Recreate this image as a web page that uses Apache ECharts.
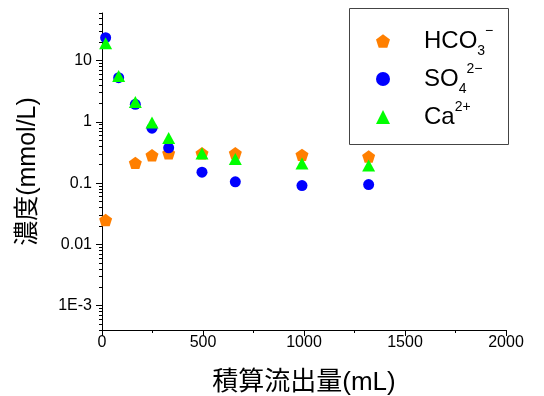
<!DOCTYPE html>
<html>
<head>
<meta charset="utf-8">
<script src="https://cdn.jsdelivr.net/npm/echarts@6/dist/echarts.min.js"></script>
<style>html,body{margin:0;padding:0;background:#fff}#c{width:544px;height:396px}</style>
</head>
<body>
<div id="c"></div>
<script>
// ---- data ----
const xValues = [18, 82.5, 165, 247.5, 330, 495, 660, 990, 1320];
const hco3 = [0.025, null, 0.214, 0.286, 0.308, 0.308, 0.308, 0.29, 0.272];
const so4 = [23.7, 5.28, 1.94, 0.79, 0.377, 0.151, 0.105, 0.0914, 0.0948];
const ca = [19.2, 5.6, 2.12, 0.975, 0.548, 0.304, 0.249, 0.209, 0.194];
const seriesNames = ['HCO3', 'SO4', 'Ca'];
const yMajorTicks = [0.001, 0.01, 0.1, 1, 10];
const yTickLabels = ['1E-3', '0.01', '0.1', '1', '10'];
const xTitle = '積算流出量(mL)';
const yTitle = '濃度(mmol/L)';

const yMin = 0.0004, yMax = 60;
const yMinorTicks = [];
for (let e = -4; e <= 1; e++) {
  for (let m = 2; m <= 9; m++) {
    const v = +(m * Math.pow(10, e)).toPrecision(3);
    if (v >= yMin && v <= yMax) yMinorTicks.push(v);
  }
}
function pairs(ys) {
  const out = [];
  ys.forEach((y, i) => { if (y != null) out.push([xValues[i], y]); });
  return out;
}
const latin = "'Liberation Sans', Arial, 'Noto Sans CJK JP', sans-serif";
const pentagon = 'path://M0,-1 L0.951,-0.309 L0.588,0.809 L-0.588,0.809 L-0.951,-0.309 Z';
const legendRich = {
  sp: { width: 29 },
  main: { fontSize: 24, lineHeight: 34, fontFamily: latin, color: '#000' },
  sub: { fontSize: 14, lineHeight: 14, verticalAlign: 'bottom', fontFamily: latin, color: '#000' },
  sup: { fontSize: 14, lineHeight: 14, verticalAlign: 'top', fontFamily: latin, color: '#000' }
};
const legendLabel = {
  'HCO3': '{sp|}{main|HCO}{sub|3}{sup|−}',
  'SO4': '{sp|}{main|SO}{sub|4}{sup|2−}',
  'Ca': '{sp|}{main|Ca}{sup|2+}'
};

const chart = echarts.init(document.getElementById('c'), null, { renderer: 'canvas' });
chart.setOption({
  animation: false,
  backgroundColor: '#fff',
  grid: { left: 102, right: 38, top: 13, bottom: 66, containLabel: false, outerBoundsMode: 'none' },
  graphic: [{
    type: 'rect', z: 10,
    shape: { x: 349.5, y: 8.5, width: 159, height: 136 },
    style: { fill: 'none', stroke: '#444', lineWidth: 1 }
  }],
  legend: {
    orient: 'vertical', left: 376, top: 24, padding: 0,
    itemWidth: 14, itemHeight: 14, itemGap: 4,
    data: seriesNames,
    formatter: n => legendLabel[n],
    textStyle: { rich: legendRich }
  },
  xAxis: {
    type: 'value', min: 0, max: 2000, interval: 500,
    name: xTitle, nameLocation: 'middle', nameGap: 40,
    nameTextStyle: { fontSize: 26, color: '#000', fontFamily: latin },
    axisLine: { show: true, onZero: false, lineStyle: { color: '#000', width: 1 } },
    axisTick: { show: true, length: 6, lineStyle: { color: '#000' } },
    minorTick: { show: true, splitNumber: 2, length: 3, lineStyle: { color: '#000' } },
    axisLabel: { fontSize: 16, color: '#000', margin: 5, fontFamily: latin, formatter: v => String(v) },
    splitLine: { show: false }
  },
  yAxis: [{
    type: 'log', logBase: 10, min: yMin, max: yMax,
    name: yTitle, nameLocation: 'middle', nameGap: 61, nameRotate: 90,
    nameTextStyle: { fontSize: 25, color: '#000', fontFamily: latin },
    axisLine: { show: true, onZero: false, lineStyle: { color: '#000', width: 1 } },
    axisTick: { show: true, length: 6, customValues: yMajorTicks, lineStyle: { color: '#000' } },
    axisLabel: {
      fontSize: 16, color: '#000', margin: 10, fontFamily: latin,
      customValues: yMajorTicks,
      formatter: v => {
        const i = yMajorTicks.findIndex(t => Math.abs(Math.log10(t) - Math.log10(v)) < 1e-6);
        return i >= 0 ? yTickLabels[i] : '';
      }
    },
    splitLine: { show: false }
  }, {
    type: 'log', logBase: 10, min: yMin, max: yMax, position: 'left',
    axisLine: { show: false },
    axisTick: { show: true, length: 3, customValues: yMinorTicks, lineStyle: { color: '#000' } },
    axisLabel: { show: false },
    splitLine: { show: false }
  }],
  series: [{
    name: 'HCO3', type: 'scatter', data: pairs(hco3),
    symbol: pentagon, symbolSize: 13, symbolKeepAspect: true,
    itemStyle: { color: '#FF7F00', opacity: 1 }, z: 2
  }, {
    name: 'SO4', type: 'scatter', data: pairs(so4),
    symbol: 'circle', symbolSize: 11,
    itemStyle: { color: '#0000FF', opacity: 1 }, z: 3
  }, {
    name: 'Ca', type: 'scatter', data: pairs(ca),
    symbol: 'triangle', symbolSize: [13, 12],
    itemStyle: { color: '#00FF00', opacity: 1 }, z: 4
  }]
});
</script>
</body>
</html>
